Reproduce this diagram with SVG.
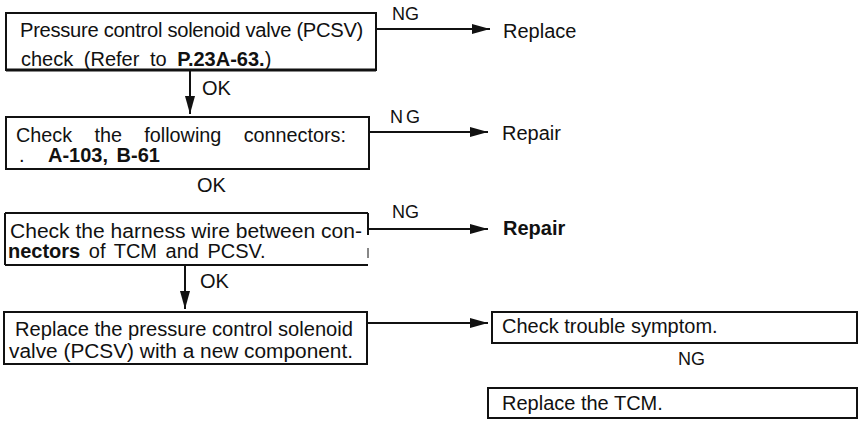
<svg xmlns="http://www.w3.org/2000/svg" width="859" height="425" viewBox="0 0 859 425">
<style>
.t{font-family:"Liberation Sans",Arial,sans-serif;font-size:20px;fill:#111}
.lb{font-family:"Liberation Sans",Arial,sans-serif;font-size:18px;fill:#111}
.b{font-weight:bold}
.box{fill:none;stroke:#111;stroke-width:2}
.edge{fill:none;stroke:#111;stroke-width:2}
</style>
<defs>
<marker id="ah" markerWidth="18" markerHeight="10" refX="18" refY="5" orient="auto" markerUnits="userSpaceOnUse">
<path d="M0,0 L18,5 L0,10 Z" fill="#111"/>
</marker>
</defs>
<rect width="859" height="425" fill="#fff"/>
<g id="connectors">
<line class="edge" x1="376" y1="29" x2="490" y2="29" marker-end="url(#ah)"/>
<line class="edge" x1="190" y1="70" x2="190" y2="114" marker-end="url(#ah)"/>
<line class="edge" x1="369" y1="132" x2="488" y2="132" marker-end="url(#ah)"/>
<line class="edge" x1="368" y1="229" x2="488" y2="229" marker-end="url(#ah)"/>
<line class="edge" x1="185" y1="265" x2="185" y2="309" marker-end="url(#ah)"/>
<line class="edge" x1="367" y1="323" x2="488" y2="323" stroke-width="1.5" marker-end="url(#ah)"/>
<text class="lb" x="392" y="20">NG</text>
<text class="t" x="202" y="95">OK</text>
<text class="lb" x="390" y="123" letter-spacing="3">NG</text>
<text class="t" x="197" y="192">OK</text>
<text class="lb" x="392" y="218">NG</text>
<text class="t" x="200" y="288">OK</text>
<text class="lb" x="678" y="365">NG</text>
</g>
<g id="n1">
<rect class="box" x="6" y="13" width="370" height="57"/>
<line x1="6" y1="70" x2="376" y2="70" stroke="#111" stroke-width="3"/>
<text class="t" x="20" y="37" textLength="343" lengthAdjust="spacingAndGlyphs" letter-spacing="-0.3">Pressure control solenoid valve (PCSV)</text>
<text class="t" x="21" y="66" word-spacing="5">check (Refer to <tspan font-weight="bold">P.23A-63.</tspan>)</text>
</g>
<g id="r1"><text class="t" x="503" y="38">Replace</text></g>
<g id="n2">
<rect class="box" x="6" y="117" width="363" height="52"/>
<text class="t" x="16" y="142" word-spacing="17" textLength="330" lengthAdjust="spacingAndGlyphs">Check the following connectors:</text>
<text class="t" x="19" y="162">.</text>
<text class="t b" x="48" y="162" word-spacing="3">A-103, B-61</text>
</g>
<g id="r2"><text class="t" x="502" y="140">Repair</text></g>
<g id="n3">
<line class="edge" x1="5" y1="213" x2="368" y2="213"/>
<line class="edge" x1="5" y1="265" x2="368" y2="265" stroke-width="2.5"/>
<line class="edge" x1="5" y1="213" x2="5" y2="265"/>
<line class="edge" x1="368" y1="213" x2="368" y2="235"/>
<line x1="368" y1="248" x2="368" y2="258" stroke="#111" stroke-width="1"/>
<text class="t" x="10" y="238" textLength="352" lengthAdjust="spacingAndGlyphs">Check the harness wire between con-</text>
<text class="t" x="8" y="258" word-spacing="3"><tspan class="b">nectors</tspan> of TCM and PCSV.</text>
</g>
<g id="r3"><text class="t b" x="503" y="235">Repair</text></g>
<g id="n4">
<rect class="box" x="4" y="312" width="363" height="52"/>
<text class="t" x="15" y="336" textLength="338" lengthAdjust="spacingAndGlyphs">Replace the pressure control solenoid</text>
<text class="t" x="9" y="358" textLength="344" lengthAdjust="spacingAndGlyphs">valve (PCSV) with a new component.</text>
</g>
<g id="n5">
<rect class="box" x="492" y="312" width="365" height="31"/>
<text class="t" x="502" y="333">Check trouble symptom.</text>
</g>
<g id="n6">
<rect class="box" x="488" y="388" width="369" height="30"/>
<text class="t" x="502" y="410">Replace the TCM.</text>
</g>
</svg>
